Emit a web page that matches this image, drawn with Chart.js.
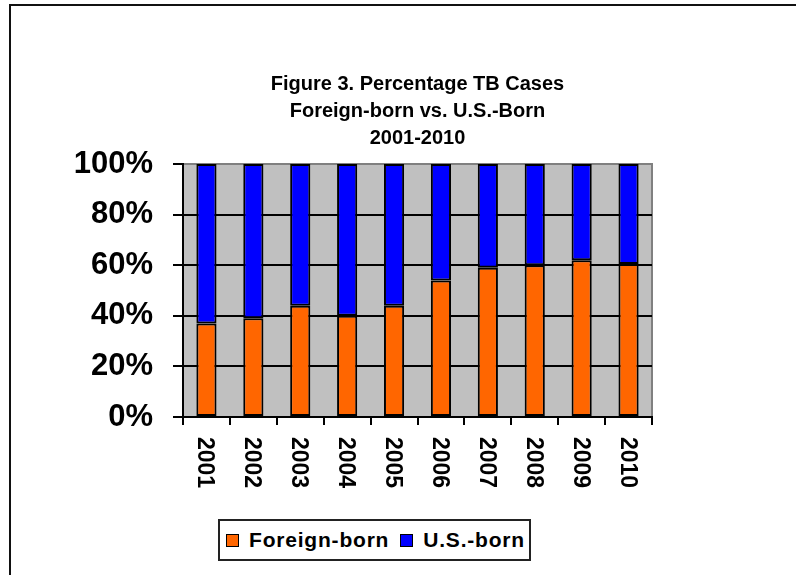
<!DOCTYPE html>
<html>
<head>
<meta charset="utf-8">
<script src="https://cdn.jsdelivr.net/npm/chart.js@4.4.0/dist/chart.umd.min.js"></script>
<style>
  html, body { margin: 0; padding: 0; background: #fff; overflow: hidden; }
  #wrap { position: relative; width: 796px; height: 575px; }
  #frame { position: absolute; left: 9px; top: 4px; width: 900px; height: 700px; border: 2px solid #111; box-sizing: border-box; }
  #myChart { position: absolute; left: 0; top: 0; }
  #legend {
    position: absolute; left: 218px; top: 519px; width: 313px; height: 42px;
    border: 2px solid #222; box-sizing: border-box; background: #fff;
    display: flex; align-items: center; padding-left: 6px; white-space: nowrap;
    font-family: "Liberation Sans", Arial, sans-serif; font-weight: bold; font-size: 21px; color: #000;
    letter-spacing: 0.8px;
  }
  #legend .item { display: flex; align-items: center; flex-shrink: 0; margin-right: 11px; }
  #legend .box { width: 11px; height: 11px; border: 1px solid #000; margin-right: 10px; flex-shrink: 0; }
</style>
</head>
<body>
<div id="wrap">
  <div id="frame"></div>
  <canvas id="myChart" width="796" height="575"></canvas>
  <div id="legend"></div>
</div>
<script>
  const years = ['2001', '2002', '2003', '2004', '2005', '2006', '2007', '2008', '2009', '2010'];
  const foreignBorn = [37, 39, 44, 40, 44, 54, 59, 60, 62, 60.5];
  const usBorn = [63, 61, 56, 60, 56, 46, 41, 40, 38, 39.5];
  const yTicks = [0, 20, 40, 60, 80, 100];
  const titleLines = ['Figure 3. Percentage TB Cases', 'Foreign-born vs. U.S.-Born', '2001-2010'];

  const FONT = '"Liberation Sans", Arial, sans-serif';

  // gray plot area with a darker frame, like the spreadsheet original
  const plotBg = {
    id: 'plotBg',
    beforeDraw(chart) {
      const a = chart.chartArea;
      const c = chart.ctx;
      c.save();
      c.fillStyle = '#c0c0c0';
      c.fillRect(a.left, a.top, a.right - a.left, a.bottom - a.top);
      c.strokeStyle = '#808080';
      c.lineWidth = 2;
      c.strokeRect(a.left, a.top, a.right - a.left, a.bottom - a.top);
      c.restore();
    }
  };

  // year labels turned clockwise, reading downwards
  const yearLabels = {
    id: 'yearLabels',
    afterDraw(chart) {
      const x = chart.scales.x;
      const c = chart.ctx;
      c.save();
      c.font = 'bold 23px ' + FONT;
      c.fillStyle = '#000';
      c.textAlign = 'left';
      c.textBaseline = 'alphabetic';
      years.forEach((y, i) => {
        c.save();
        c.translate(x.getPixelForValue(i), x.top + 20);
        c.rotate(Math.PI / 2);
        c.fillText(y, 0, 8);
        c.restore();
      });
      c.restore();
    }
  };

  const ctx = document.getElementById('myChart').getContext('2d');
  const myChart = new Chart(ctx, {
    type: 'bar',
    data: {
      labels: years,
      datasets: [{
          label: 'Foreign-born',
          data: foreignBorn,
          backgroundColor: '#ff6600',
          borderColor: '#000000',
          borderWidth: 2,
          borderSkipped: false,
        },
        {
          label: 'U.S.-born',
          data: usBorn,
          backgroundColor: '#0000ff',
          borderColor: '#000000',
          borderWidth: 2,
          borderSkipped: false,
        },
      ],
    },
    options: {
      responsive: false,
      animation: false,
      layout: { padding: { left: 0, right: 144, top: 0, bottom: 58 } },
      datasets: {
        bar: { categoryPercentage: 1, barPercentage: 0.43 }
      },
      plugins: {
        legend: { display: false }, // html legend below
        tooltip: { enabled: false },
        title: {
          display: true,
          fullSize: false,
          text: titleLines,
          color: '#000',
          font: { family: FONT, size: 20, weight: 'bold', lineHeight: 1.35 },
          padding: { top: 71, bottom: 12 },
        },
      },
      scales: {
        x: {
          stacked: true,
          offset: true,
          afterFit: (s) => { s.height = 100; },
          grid: {
            offset: true,
            drawOnChartArea: false,
            drawTicks: true,
            tickLength: 8,
            color: '#000',
            lineWidth: 2,
          },
          border: { color: '#000', width: 2 },
          ticks: { display: false },
        },
        y: {
          stacked: true,
          min: 0,
          max: 100,
          afterFit: (s) => { s.width = 183; },
          afterBuildTicks: (s) => { s.ticks = yTicks.map(v => ({ value: v })); },
          grid: {
            color: (c) => (c.tick && c.tick.value === 100 ? '#808080' : '#000'),
            tickColor: '#000',
            lineWidth: 2,
            tickLength: 10,
          },
          border: { color: '#000', width: 2 },
          ticks: {
            color: '#000',
            padding: 20,
            font: { family: FONT, size: 31, weight: 'bold' },
            callback: function (value) {
              return value + '%';
            },
          },
        },
      },
    },
    plugins: [plotBg, yearLabels],
  });

  // legend built from the chart's datasets
  const legendEl = document.getElementById('legend');
  myChart.data.datasets.forEach(ds => {
    const item = document.createElement('span');
    item.className = 'item';
    const box = document.createElement('span');
    box.className = 'box';
    box.style.background = ds.backgroundColor;
    const txt = document.createElement('span');
    txt.textContent = ds.label;
    item.appendChild(box);
    item.appendChild(txt);
    legendEl.appendChild(item);
  });
</script>
</body>
</html>
